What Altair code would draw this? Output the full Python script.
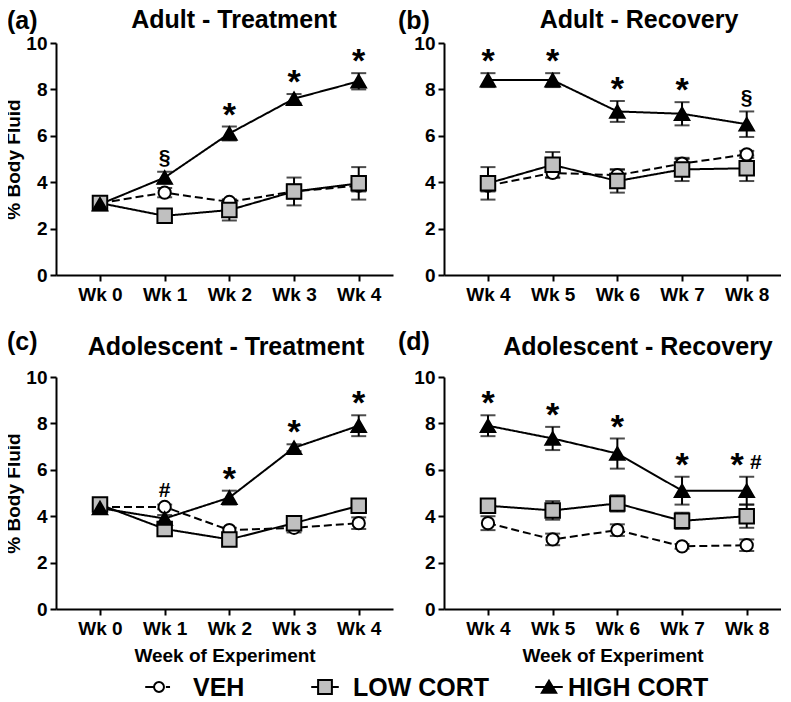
import json
import altair as alt
import pandas as pd

FONT = "Liberation Sans"

groups = ["VEH", "LOW CORT", "HIGH CORT"]
group_fills = ["white", "#c0c0c0", "black"]
weeks_treatment = ["Wk 0", "Wk 1", "Wk 2", "Wk 3", "Wk 4"]
weeks_recovery = ["Wk 4", "Wk 5", "Wk 6", "Wk 7", "Wk 8"]
letters = ["(a)", "(b)", "(c)", "(d)"]
titles = ["Adult - Treatment", "Adult - Recovery",
          "Adolescent - Treatment", "Adolescent - Recovery"]

# (a) Adult - Treatment
a_veh = [3.1, 3.55, 3.15, 3.6, 3.85]
a_veh_err = [0.15, 0.2, 0.1, 0.3, 0.25]
a_low = [3.1, 2.55, 2.8, 3.6, 3.95]
a_low_err = [0.25, 0.15, 0.45, 0.6, 0.7]
a_high = [3.05, 4.2, 6.1, 7.6, 8.35]
a_high_err = [0.2, 0.25, 0.3, 0.2, 0.35]
a_marks = ["", "§", "*", "*", "*"]

# (b) Adult - Recovery
b_veh = [3.85, 4.4, 4.3, 4.8, 5.2]
b_veh_err = [0.25, 0.2, 0.25, 0.2, 0.15]
b_low = [3.95, 4.75, 4.05, 4.55, 4.6]
b_low_err = [0.7, 0.55, 0.5, 0.5, 0.55]
b_high = [8.4, 8.4, 7.05, 6.95, 6.5]
b_high_err = [0.3, 0.3, 0.45, 0.5, 0.55]
b_marks = ["*", "*", "*", "*", "§"]

# (c) Adolescent - Treatment
c_veh = [4.4, 4.4, 3.4, 3.5, 3.7]
c_veh_err = [0.15, 0.1, 0.1, 0.2, 0.25]
c_low = [4.5, 3.45, 3.0, 3.7, 4.45]
c_low_err = [0.15, 0.15, 0.15, 0.2, 0.15]
c_high = [4.35, 3.9, 4.8, 6.95, 7.9]
c_high_err = [0.2, 0.15, 0.3, 0.15, 0.45]
c_marks = ["", "#", "*", "*", "*"]

# (d) Adolescent - Recovery
d_veh = [3.7, 3.0, 3.4, 2.7, 2.75]
d_veh_err = [0.3, 0.25, 0.25, 0.1, 0.25]
d_low = [4.45, 4.25, 4.55, 3.8, 4.0]
d_low_err = [0.15, 0.4, 0.35, 0.35, 0.5]
d_high = [7.9, 7.35, 6.7, 5.1, 5.1]
d_high_err = [0.45, 0.5, 0.65, 0.6, 0.6]
d_marks = ["*", "*", "*", "*", "* #"]

# legend symbols: line + marker (custom paths in the -1..1 box)
legend_paths = [
    "M-1,0L-0.36,0M0.5,0L0.8,0M-0.36,0A0.36,0.36,0,1,0,0.36,0A0.36,0.36,0,1,0,-0.36,0Z",
    "M-1,0L-0.5,0M0.5,0L1,0M-0.5,-0.5L0.5,-0.5L0.5,0.5L-0.5,0.5Z",
    "M-1,0L1,0M0,-0.45L0.52,0.42L-0.52,0.42Z",
]

W, H = 337, 232
XDOM = [-0.68, 4.53]


def build(veh, veh_err, low, low_err, high, high_err, marks, weeks):
    rows = []
    for g, m, e in zip(groups, [veh, low, high], [veh_err, low_err, high_err]):
        for k in range(len(weeks)):
            rows.append({"idx": k, "week": weeks[k], "group": g, "mean": m[k],
                         "lo": m[k] - e[k], "hi": m[k] + e[k]})
    df = pd.DataFrame(rows)
    top = df.groupby("idx")["hi"].max()
    ann = []
    for k, s in enumerate(marks):
        star = "*" in s
        other = s.replace("*", "").strip()
        y = top[k] + 0.6
        if star:
            ann.append({"x": k - (0.15 if other else 0), "y": y, "t": "*", "kind": "star"})
        if other:
            ann.append({"x": k + (0.14 if star else 0), "y": y, "t": other, "kind": "other"})
    return df, pd.DataFrame(ann)


def panel(i, data, weeks, left, bottom, letter_y, title_y, title_x):
    df, ann = data
    x = alt.X("idx:Q", scale=alt.Scale(domain=XDOM, nice=False, zero=False),
              axis=alt.Axis(values=[0, 1, 2, 3, 4],
                            labelExpr=json.dumps(weeks) + "[datum.value]",
                            title="Week of Experiment" if bottom else None,
                            titlePadding=8))
    y = alt.Y("mean:Q", scale=alt.Scale(domain=[0, 10], nice=False),
              axis=alt.Axis(values=[0, 2, 4, 6, 8, 10],
                            title="% Body Fluid" if left else None,
                            titlePadding=2))
    base = alt.Chart(df)
    lines = base.mark_line(color="black", strokeWidth=2).encode(
        x=x, y=y, detail="group:N",
        strokeDash=alt.StrokeDash("group:N", scale=alt.Scale(domain=groups, range=[[8, 4], [1, 0], [1, 0]]),
                                  legend=None))
    rules = base.mark_rule(color="black", strokeWidth=2).encode(x=x, y=alt.Y("lo:Q"), y2="hi:Q")
    cap_hi = base.mark_tick(orient="horizontal", size=15, thickness=2, color="black").encode(x=x, y=alt.Y("hi:Q"))
    cap_lo = base.mark_tick(orient="horizontal", size=15, thickness=2, color="black").encode(x=x, y=alt.Y("lo:Q"))
    pts = []
    specs = [("circle", 150), ("square", 210), ("triangle-up", 210)]
    for g, fill, (shape, size) in zip(groups, group_fills, specs):
        pts.append(base.transform_filter(alt.datum.group == g).mark_point(
            shape=shape, filled=True, fill=fill, stroke="black", strokeWidth=2,
            size=size, opacity=1).encode(x=x, y=y))
    annb = alt.Chart(ann)
    stars = annb.transform_filter(alt.datum.kind == "star").mark_text(
        font=FONT, fontSize=34, fontWeight="bold", baseline="alphabetic", dy=13, color="black"
    ).encode(x=alt.X("x:Q"), y=alt.Y("y:Q"), text="t:N")
    others = annb.transform_filter(alt.datum.kind == "other").mark_text(
        font=FONT, fontSize=21, fontWeight="bold", baseline="alphabetic", dy=6, color="black"
    ).encode(x=alt.X("x:Q"), y=alt.Y("y:Q"), text="t:N")
    lab = pd.DataFrame({"t": [letters[i]], "title": [titles[i]]})
    letter = alt.Chart(lab).mark_text(font=FONT, fontSize=25, fontWeight="bold", align="left",
                                      baseline="alphabetic", color="black").encode(
        x=alt.value(-49 if left else -46), y=alt.value(letter_y), text="t:N")
    ttl = alt.Chart(lab).mark_text(font=FONT, fontSize=25, fontWeight="bold", align="center",
                                   baseline="alphabetic", color="black").encode(
        x=alt.value(title_x), y=alt.value(title_y), text="title:N")
    layers = [lines, rules, cap_hi, cap_lo] + pts + [stars, others, letter, ttl]
    return alt.layer(*layers).properties(width=W, height=H)


pa = panel(0, build(a_veh, a_veh_err, a_low, a_low_err, a_high, a_high_err, a_marks, weeks_treatment),
           weeks_treatment, True, False, -14, -15, 178)
pb = panel(1, build(b_veh, b_veh_err, b_low, b_low_err, b_high, b_high_err, b_marks, weeks_recovery),
           weeks_recovery, False, False, -14, -15, 195)
pc = panel(2, build(c_veh, c_veh_err, c_low, c_low_err, c_high, c_high_err, c_marks, weeks_treatment),
           weeks_treatment, True, True, -27, -22, 170)
pd_ = panel(3, build(d_veh, d_veh_err, d_low, d_low_err, d_high, d_high_err, d_marks, weeks_recovery),
            weeks_recovery, False, True, -27, -22, 194)

# custom legend row: line + marker symbol and bold label for each group
legend_df = pd.DataFrame({"group": groups, "slot": list(range(len(groups)))})
sym = alt.Chart(legend_df).mark_point(filled=True, stroke="black", strokeWidth=2, size=760, opacity=1).encode(
    x=alt.X("slot:Q", scale=alt.Scale(domain=[0, 1, 2], range=[103, 269, 493]), axis=None),
    y=alt.value(15),
    shape=alt.Shape("group:N", scale=alt.Scale(domain=groups, range=legend_paths), legend=None),
    fill=alt.Fill("group:N", scale=alt.Scale(domain=groups, range=group_fills), legend=None),
)
txt = alt.Chart(legend_df).mark_text(font=FONT, fontSize=25, fontWeight="bold", align="left",
                                     baseline="middle", color="black").encode(
    x=alt.X("slot:Q", scale=alt.Scale(domain=[0, 1, 2], range=[137, 297, 512]), axis=None),
    y=alt.value(16),
    text="group:N",
)
legend_row = alt.layer(sym, txt).resolve_scale(x="independent").properties(width=700, height=30)

panels = alt.vconcat(
    alt.hconcat(pa, pb, spacing=5),
    alt.hconcat(pc, pd_, spacing=5),
    spacing=26,
)

chart = alt.vconcat(panels, legend_row, spacing=7).properties(
    padding={"left": -4, "top": 0, "right": 0, "bottom": 0}
).configure_view(stroke=None).configure_axis(
    domainColor="black", domainWidth=2, tickColor="black", tickWidth=2, tickSize=6,
    labelFont=FONT, labelFontSize=19, labelFontWeight="bold", labelColor="black", labelPadding=3,
    titleFont=FONT, titleFontSize=19, titleFontWeight="bold", titleColor="black", grid=False,
).configure_axisX(labelPadding=4)

chart.save("out.html", embed_options={"renderer": "svg", "actions": False})
